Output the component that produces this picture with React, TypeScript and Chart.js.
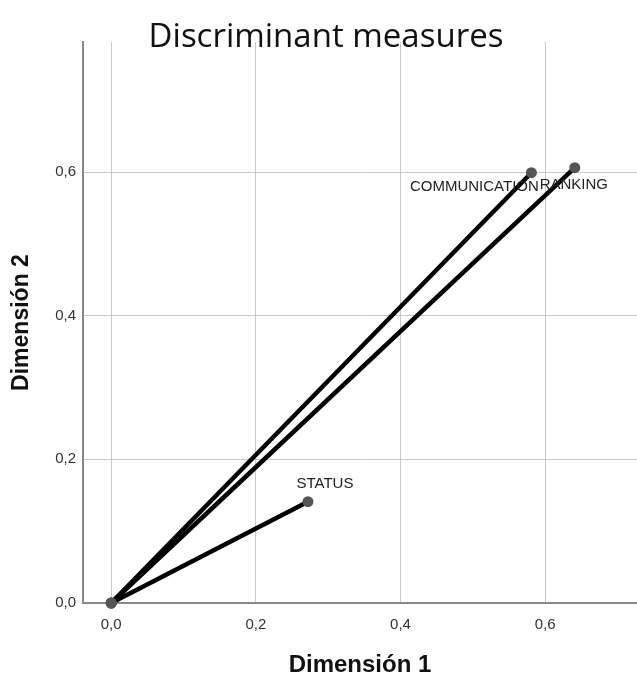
import React, { useEffect, useRef } from "react";
import { Chart, registerables } from "chart.js";

Chart.register(...registerables);

const variables = ["COMMUNICATION", "RANKING", "STATUS"];
const dim1 = [0.581, 0.641, 0.272];
const dim2 = [0.599, 0.606, 0.141];
const tickValues = [0, 0.2, 0.4, 0.6];
const chartTitle = "Discriminant measures";
const xTitle = "Dimensión 1";
const yTitle = "Dimensión 2";

// label offsets in px relative to point (dx, dy), label centred
const labelOffsets: [number, number][] = [
  [-57, 14],
  [-1, 17],
  [17, -18],
];

const fmt = (v: number) => v.toFixed(1).replace(".", ",");
const SANS = "'Liberation Sans', Arial, sans-serif";

export default function App() {
  const ref = useRef<HTMLCanvasElement | null>(null);
  useEffect(() => {
    if (!ref.current) return;
    const datasets = variables.map((name, i) => ({
      label: name,
      data: [
        { x: 0, y: 0 },
        { x: dim1[i], y: dim2[i] },
      ],
      showLine: true,
      borderColor: "#000",
      borderWidth: 4.5,
      pointRadius: 5.5,
      pointBackgroundColor: "#555",
      pointBorderColor: "#555",
      pointBorderWidth: 0,
      clip: false as any,
    }));

    const overlay = {
      id: "overlay",
      afterDatasetsDraw(chart: any) {
        const ctx = chart.ctx;
        ctx.save();
        ctx.font = `15px ${SANS}`;
        ctx.fillStyle = "#222";
        ctx.textAlign = "center";
        ctx.textBaseline = "middle";
        const xs = chart.scales.x;
        const ys = chart.scales.y;
        variables.forEach((name, i) => {
          const px = xs.getPixelForValue(dim1[i]);
          const py = ys.getPixelForValue(dim2[i]);
          ctx.fillText(name, px + labelOffsets[i][0], py + labelOffsets[i][1]);
        });
        ctx.font = "33px 'Open Sans', sans-serif";
        ctx.fillStyle = "#111";
        ctx.textBaseline = "alphabetic";
        ctx.fillText(chartTitle, 326, 47);
        ctx.restore();
      },
    };

    const chart = new Chart(ref.current, {
      type: "scatter",
      data: { datasets },
      plugins: [overlay],
      options: {
        responsive: false,
        animation: false,
        layout: { autoPadding: false, padding: { top: 42, right: 0, left: 0, bottom: 0 } },
        plugins: { legend: { display: false }, tooltip: { enabled: false } },
        scales: {
          x: {
            type: "linear",
            min: -0.039,
            max: 0.727,
            afterBuildTicks: (s: any) => {
              s.ticks = tickValues.map((v) => ({ value: v }));
            },
            afterFit: (s: any) => {
              s.height = 74;
              s.paddingLeft = 0;
              s.paddingRight = 0;
            },
            grid: { color: "#c8c8c8", lineWidth: 1, drawTicks: false },
            border: { color: "#888", width: 2 },
            ticks: {
              padding: 13,
              color: "#333",
              font: { size: 15, family: SANS },
              callback: (v: any) => fmt(Number(v)),
            },
            title: {
              display: true,
              text: xTitle,
              color: "#111",
              font: { size: 24, weight: "bold", family: SANS, lineHeight: 1 },
              padding: { top: 0, bottom: 0 },
            },
          },
          y: {
            type: "linear",
            min: 0,
            max: 0.781,
            afterBuildTicks: (s: any) => {
              s.ticks = tickValues.map((v) => ({ value: v }));
            },
            afterFit: (s: any) => {
              s.width = 83;
              s.paddingTop = 0;
              s.paddingBottom = 0;
            },
            grid: { color: "#c8c8c8", lineWidth: 1, drawTicks: false },
            border: { color: "#888", width: 2 },
            ticks: {
              padding: 7,
              color: "#333",
              font: { size: 15, family: SANS },
              callback: (v: any) => fmt(Number(v)),
            },
            title: {
              display: true,
              text: yTitle,
              color: "#111",
              font: { size: 23, weight: "bold", family: SANS, lineHeight: 1 },
              padding: { top: 10, bottom: 0 },
            },
          },
        },
      },
    });
    return () => chart.destroy();
  }, []);

  return (
    <div style={{ position: "absolute", left: 0, top: 0, width: 637, height: 677, background: "#fff" }}>
      <canvas ref={ref} width={637} height={677} style={{ width: 637, height: 677 }} />
    </div>
  );
}
